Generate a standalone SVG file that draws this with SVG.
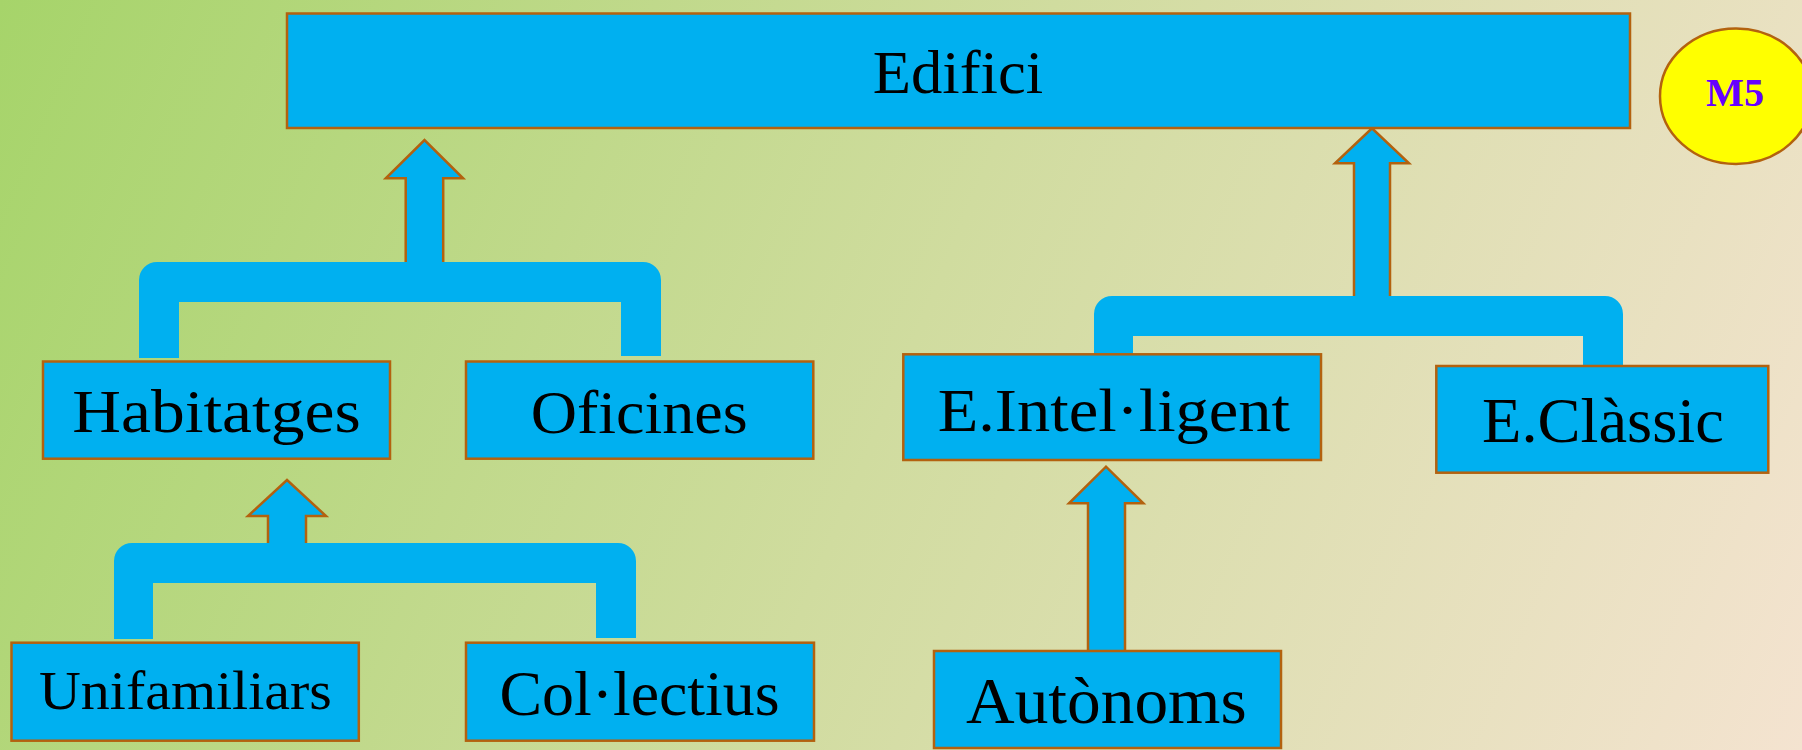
<svg xmlns="http://www.w3.org/2000/svg" width="1802" height="750" viewBox="0 0 1802 750">
  <defs>
    <linearGradient id="bg" gradientUnits="userSpaceOnUse" x1="0" y1="0" x2="1802" y2="750">
      <stop offset="0" stop-color="#a6d46a"/>
      <stop offset="0.5" stop-color="#d0dc9f"/>
      <stop offset="1" stop-color="#f4e3d0"/>
    </linearGradient>
    <style>
      .box { fill: #00b0f0; stroke: #b3620f; stroke-width: 2.5; }
      .arrow { fill: #00b0f0; stroke: #b3620f; stroke-width: 2.5; stroke-linejoin: miter; }
      .bracket { fill: #00b0f0; stroke: none; }
      .lbl { font-family: "Liberation Serif", "Times New Roman", serif; fill: #000; }
      .badge { fill: #ffff00; stroke: #b3620f; stroke-width: 2.5; }
      .badge-lbl { font-family: "Liberation Serif", "Times New Roman", serif; font-weight: bold; fill: #6600ff; }
    </style>
  </defs>

  <!-- background -->
  <rect x="0" y="0" width="1802" height="750" fill="url(#bg)"/>

  <!-- connectors: up arrows and joining brackets -->
  <g id="connectors">
    <path class="arrow" d="M405.7,262 V178.3 H385.8 L424.5,140 L463.1,178.3 H443.2 V262"/>
    <path class="arrow" d="M1354,296 V163.3 H1335 L1372,128.3 L1409,163.3 H1390 V296"/>
    <path class="arrow" d="M268,543 V516 H248 L287,480 L326,516 H306 V543"/>
    <path class="arrow" d="M1088,651 V503.3 H1069 L1106,466.7 L1143.3,503.3 H1125 V651"/>

    <path class="bracket" d="M139,358 V280 A18,18 0 0 1 157,262 H643 A18,18 0 0 1 661,280 V356 H621 V302 H179 V358 Z"/>
    <path class="bracket" d="M1094,355 V314 A18,18 0 0 1 1112,296 H1605 A18,18 0 0 1 1623,314 V367 H1583 V336 H1133 V355 Z"/>
    <path class="bracket" d="M114,639 V561 A18,18 0 0 1 132,543 H618 A18,18 0 0 1 636,561 V638 H596 V583 H153 V639 Z"/>
  </g>

  <g id="edifici">
    <rect class="box" x="287" y="13.5" width="1343" height="114.5"/>
    <text class="lbl" x="872.7" y="93.3" font-size="62" textLength="170.6" lengthAdjust="spacingAndGlyphs">Edifici</text>
  </g>

  <g id="habitatges">
    <rect class="box" x="43" y="361.5" width="347" height="97.2"/>
    <text class="lbl" x="72.3" y="431.7" font-size="62" textLength="288.4" lengthAdjust="spacingAndGlyphs">Habitatges</text>
  </g>

  <g id="oficines">
    <rect class="box" x="466" y="361.5" width="347.3" height="97.2"/>
    <text class="lbl" x="530.7" y="432.7" font-size="62" textLength="217" lengthAdjust="spacingAndGlyphs">Oficines</text>
  </g>

  <g id="intelligent">
    <rect class="box" x="903.3" y="354.3" width="417.7" height="105.7"/>
    <text class="lbl" x="937.7" y="430.7" font-size="62" textLength="352.3" lengthAdjust="spacingAndGlyphs">E.Intel·ligent</text>
  </g>

  <g id="classic">
    <rect class="box" x="1436.3" y="366" width="332" height="106.7"/>
    <text class="lbl" x="1482" y="442.3" font-size="63" textLength="241.8" lengthAdjust="spacingAndGlyphs">E.Clàssic</text>
  </g>

  <g id="unifamiliars">
    <rect class="box" x="11.5" y="642.7" width="347.3" height="98"/>
    <text class="lbl" x="39" y="709.3" font-size="55" textLength="292.8" lengthAdjust="spacingAndGlyphs">Unifamiliars</text>
  </g>

  <g id="collectius">
    <rect class="box" x="466" y="642.7" width="348" height="98"/>
    <text class="lbl" x="499.4" y="715" font-size="64" textLength="280.2" lengthAdjust="spacingAndGlyphs">Col·lectius</text>
  </g>

  <g id="autonoms">
    <rect class="box" x="934" y="651" width="347" height="97"/>
    <text class="lbl" x="966" y="723.3" font-size="65" textLength="280.7" lengthAdjust="spacingAndGlyphs">Autònoms</text>
  </g>

  <g id="badge">
    <ellipse class="badge" cx="1736" cy="96.2" rx="76" ry="67.8"/>
    <text class="badge-lbl" x="1706" y="106" font-size="39" textLength="58" lengthAdjust="spacingAndGlyphs">M5</text>
  </g>
</svg>
